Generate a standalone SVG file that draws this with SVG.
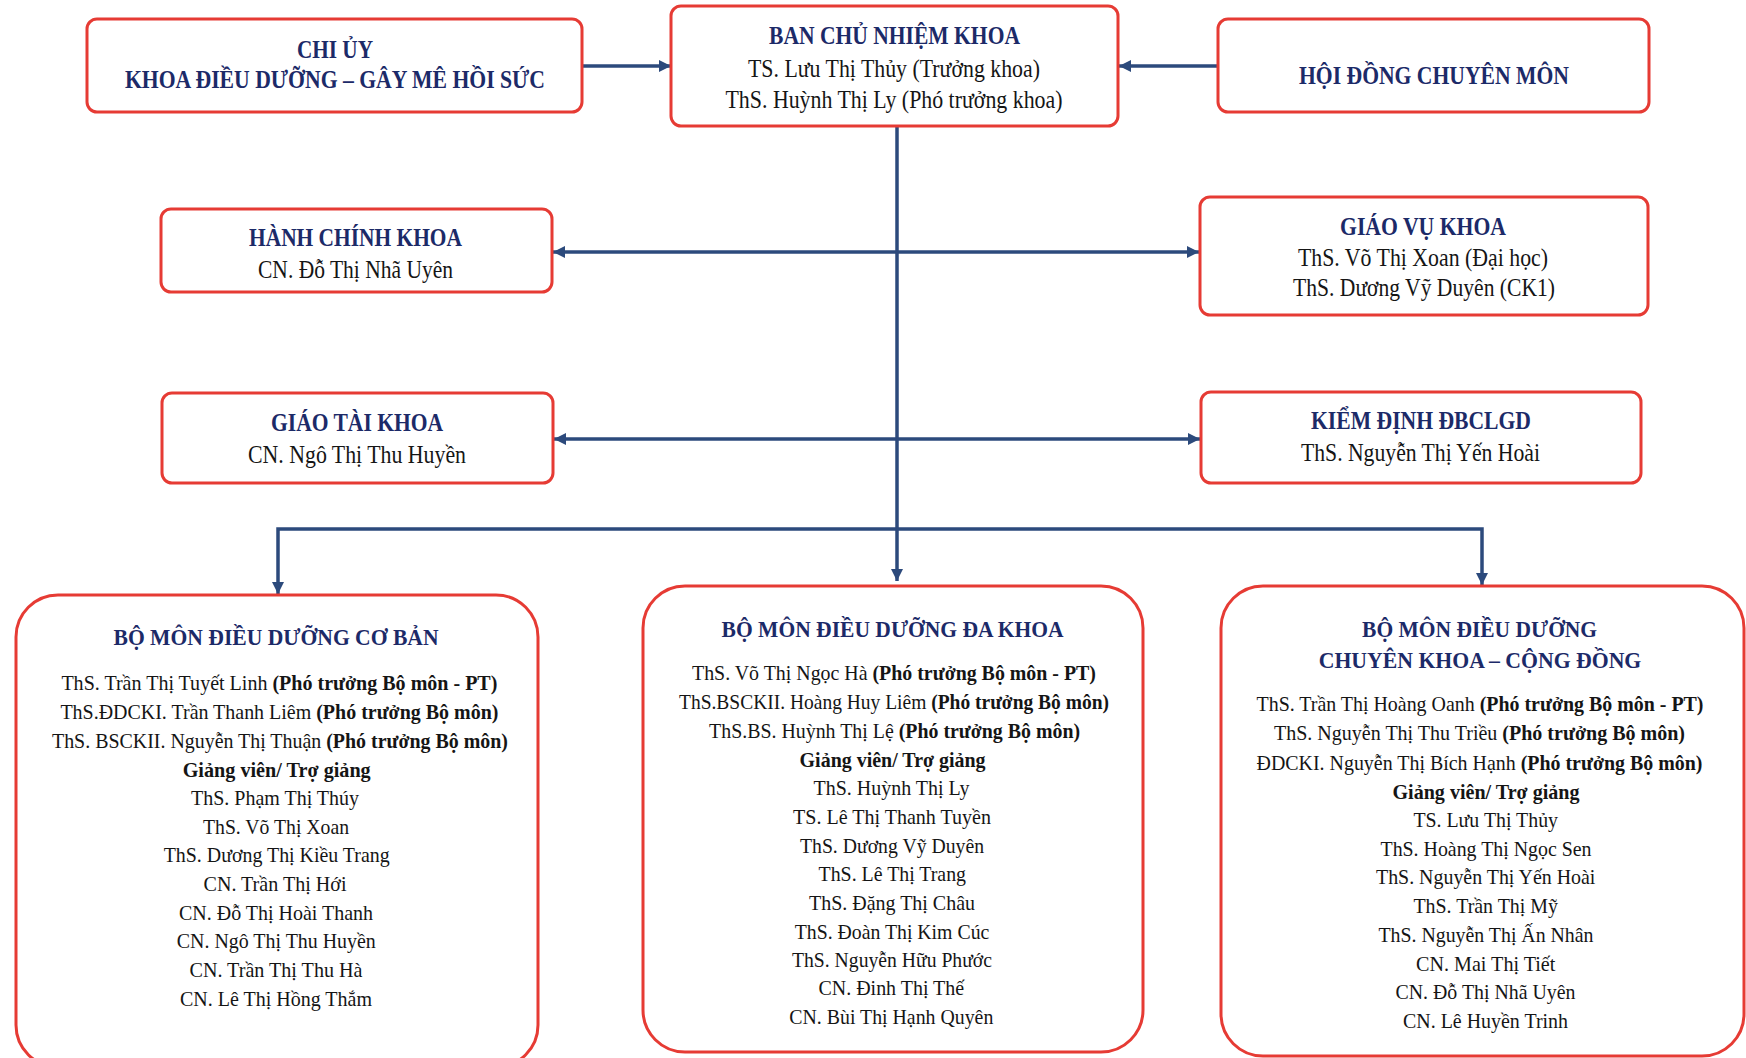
<svg xmlns="http://www.w3.org/2000/svg" width="1746" height="1058" viewBox="0 0 1746 1058">
<defs>
<style>
.box{fill:#fff;stroke:#e63b34;stroke-width:3}
.t{font-family:"Liberation Serif","Times New Roman",serif;text-anchor:middle}
.h{font-weight:bold;fill:#1c2a68;font-size:25px}
.hb{font-weight:bold;fill:#1c2a68;font-size:24px}
.n{fill:#151515;font-size:25px}
.s{fill:#151515;font-size:22px}
.b{font-weight:bold}
.c{fill:none;stroke:#2c4a7c;stroke-width:3.5}
</style>
<marker id="ah" markerUnits="userSpaceOnUse" markerWidth="12" markerHeight="12" refX="12" refY="6" orient="auto">
<path d="M0,0 L12,6 L0,12 z" fill="#2c4a7c"/>
</marker>
</defs>
<rect width="1746" height="1058" fill="#fff"/>

<g id="connectors">
<path class="c" d="M582,66 H671" marker-end="url(#ah)"/>
<path class="c" d="M1218,66 H1119" marker-end="url(#ah)"/>
<path class="c" d="M897,126 V581" marker-end="url(#ah)"/>
<path class="c" d="M897,252 H553" marker-end="url(#ah)"/>
<path class="c" d="M897,252 H1199" marker-end="url(#ah)"/>
<path class="c" d="M897,439 H554" marker-end="url(#ah)"/>
<path class="c" d="M897,439 H1200" marker-end="url(#ah)"/>
<path class="c" d="M897,529 H278 V594" marker-end="url(#ah)"/>
<path class="c" d="M897,529 H1482 V585" marker-end="url(#ah)"/>
</g>

<g id="chi-uy">
<rect class="box" x="87" y="19" width="495" height="93" rx="10"/>
<text class="t h" x="335" y="58" textLength="76" lengthAdjust="spacingAndGlyphs">CHI ỦY</text>
<text class="t h" x="335" y="88" textLength="420" lengthAdjust="spacingAndGlyphs">KHOA ĐIỀU DƯỠNG – GÂY MÊ HỒI SỨC</text>
</g>

<g id="ban-chu-nhiem">
<rect class="box" x="671" y="6" width="447" height="120" rx="10"/>
<text class="t h" x="894.5" y="44" textLength="251" lengthAdjust="spacingAndGlyphs">BAN CHỦ NHIỆM KHOA</text>
<text class="t n" x="894" y="77" textLength="292" lengthAdjust="spacingAndGlyphs">TS. Lưu Thị Thủy (Trưởng khoa)</text>
<text class="t n" x="894" y="108" textLength="337" lengthAdjust="spacingAndGlyphs">ThS. Huỳnh Thị Ly (Phó trưởng khoa)</text>
</g>

<g id="hoi-dong">
<rect class="box" x="1218" y="19" width="431" height="93" rx="10"/>
<text class="t h" x="1434" y="84" textLength="270" lengthAdjust="spacingAndGlyphs">HỘI ĐỒNG CHUYÊN MÔN</text>
</g>

<g id="hanh-chinh">
<rect class="box" x="161" y="209" width="391" height="83" rx="10"/>
<text class="t h" x="355.5" y="246" textLength="213" lengthAdjust="spacingAndGlyphs">HÀNH CHÍNH KHOA</text>
<text class="t n" x="355.5" y="278" textLength="195" lengthAdjust="spacingAndGlyphs">CN. Đỗ Thị Nhã Uyên</text>
</g>

<g id="giao-vu">
<rect class="box" x="1200" y="197" width="448" height="118" rx="10"/>
<text class="t h" x="1423" y="235" textLength="166" lengthAdjust="spacingAndGlyphs">GIÁO VỤ KHOA</text>
<text class="t n" x="1423" y="266" textLength="250" lengthAdjust="spacingAndGlyphs">ThS. Võ Thị Xoan (Đại học)</text>
<text class="t n" x="1424" y="296" textLength="262" lengthAdjust="spacingAndGlyphs">ThS. Dương Vỹ Duyên (CK1)</text>
</g>

<g id="giao-tai">
<rect class="box" x="162" y="393" width="391" height="90" rx="10"/>
<text class="t h" x="357" y="431" textLength="172" lengthAdjust="spacingAndGlyphs">GIÁO TÀI KHOA</text>
<text class="t n" x="357" y="463" textLength="218" lengthAdjust="spacingAndGlyphs">CN. Ngô Thị Thu Huyền</text>
</g>

<g id="kiem-dinh">
<rect class="box" x="1201" y="392" width="440" height="91" rx="10"/>
<text class="t h" x="1421" y="429" textLength="220" lengthAdjust="spacingAndGlyphs">KIỂM ĐỊNH ĐBCLGD</text>
<text class="t n" x="1420.5" y="461" textLength="239" lengthAdjust="spacingAndGlyphs">ThS. Nguyễn Thị Yến Hoài</text>
</g>

<g id="bm-co-ban">
<rect class="box" x="16" y="595" width="522" height="472" rx="42"/>
<text class="t hb" x="276" y="645" textLength="325" lengthAdjust="spacingAndGlyphs">BỘ MÔN ĐIỀU DƯỠNG CƠ BẢN</text>
<text class="t s" x="279.4" y="690" textLength="436" lengthAdjust="spacingAndGlyphs">ThS. Trần Thị Tuyết Linh <tspan class="b">(Phó trưởng Bộ môn - PT)</tspan></text>
<text class="t s" x="279.4" y="719" textLength="438" lengthAdjust="spacingAndGlyphs">ThS.ĐDCKI. Trần Thanh Liêm <tspan class="b">(Phó trưởng Bộ môn)</tspan></text>
<text class="t s" x="280" y="748" textLength="456" lengthAdjust="spacingAndGlyphs">ThS. BSCKII. Nguyễn Thị Thuận <tspan class="b">(Phó trưởng Bộ môn)</tspan></text>
<text class="t s b" x="276.7" y="777" textLength="188" lengthAdjust="spacingAndGlyphs">Giảng viên/ Trợ giảng</text>
<text class="t s" x="275" y="805" textLength="168" lengthAdjust="spacingAndGlyphs">ThS. Phạm Thị Thúy</text>
<text class="t s" x="276" y="834" textLength="146" lengthAdjust="spacingAndGlyphs">ThS. Võ Thị Xoan</text>
<text class="t s" x="276.7" y="862" textLength="226" lengthAdjust="spacingAndGlyphs">ThS. Dương Thị Kiều Trang</text>
<text class="t s" x="275" y="891" textLength="143" lengthAdjust="spacingAndGlyphs">CN. Trần Thị Hới</text>
<text class="t s" x="276" y="920" textLength="194" lengthAdjust="spacingAndGlyphs">CN. Đỗ Thị Hoài Thanh</text>
<text class="t s" x="276.3" y="948" textLength="199" lengthAdjust="spacingAndGlyphs">CN. Ngô Thị Thu Huyền</text>
<text class="t s" x="276" y="977" textLength="173" lengthAdjust="spacingAndGlyphs">CN. Trần Thị Thu Hà</text>
<text class="t s" x="276" y="1006" textLength="192" lengthAdjust="spacingAndGlyphs">CN. Lê Thị Hồng Thắm</text>
</g>

<g id="bm-da-khoa">
<rect class="box" x="643" y="586" width="500" height="466" rx="42"/>
<text class="t hb" x="892.6" y="637" textLength="342" lengthAdjust="spacingAndGlyphs">BỘ MÔN ĐIỀU DƯỠNG ĐA KHOA</text>
<text class="t s" x="894" y="680" textLength="404" lengthAdjust="spacingAndGlyphs">ThS. Võ Thị Ngọc Hà <tspan class="b">(Phó trưởng Bộ môn - PT)</tspan></text>
<text class="t s" x="894" y="709" textLength="430" lengthAdjust="spacingAndGlyphs">ThS.BSCKII. Hoàng Huy Liêm <tspan class="b">(Phó trưởng Bộ môn)</tspan></text>
<text class="t s" x="894.6" y="738" textLength="371" lengthAdjust="spacingAndGlyphs">ThS.BS. Huỳnh Thị Lệ <tspan class="b">(Phó trưởng Bộ môn)</tspan></text>
<text class="t s b" x="892.6" y="767" textLength="186" lengthAdjust="spacingAndGlyphs">Giảng viên/ Trợ giảng</text>
<text class="t s" x="891.6" y="795" textLength="156" lengthAdjust="spacingAndGlyphs">ThS. Huỳnh Thị Ly</text>
<text class="t s" x="892" y="824" textLength="198" lengthAdjust="spacingAndGlyphs">TS. Lê Thị Thanh Tuyền</text>
<text class="t s" x="892" y="853" textLength="184" lengthAdjust="spacingAndGlyphs">ThS. Dương Vỹ Duyên</text>
<text class="t s" x="892.3" y="881" textLength="147.5" lengthAdjust="spacingAndGlyphs">ThS. Lê Thị Trang</text>
<text class="t s" x="892" y="910" textLength="166" lengthAdjust="spacingAndGlyphs">ThS. Đặng Thị Châu</text>
<text class="t s" x="892" y="939" textLength="194.6" lengthAdjust="spacingAndGlyphs">ThS. Đoàn Thị Kim Cúc</text>
<text class="t s" x="892" y="967" textLength="200" lengthAdjust="spacingAndGlyphs">ThS. Nguyễn Hữu Phước</text>
<text class="t s" x="891.3" y="995" textLength="145.7" lengthAdjust="spacingAndGlyphs">CN. Đinh Thị Thế</text>
<text class="t s" x="891.3" y="1024" textLength="204" lengthAdjust="spacingAndGlyphs">CN. Bùi Thị Hạnh Quyên</text>
</g>

<g id="bm-chuyen-khoa">
<rect class="box" x="1221" y="586" width="523" height="470" rx="42"/>
<text class="t hb" x="1479.6" y="637" textLength="235" lengthAdjust="spacingAndGlyphs">BỘ MÔN ĐIỀU DƯỠNG</text>
<text class="t hb" x="1480" y="668" textLength="322.5" lengthAdjust="spacingAndGlyphs">CHUYÊN KHOA – CỘNG ĐỒNG</text>
<text class="t s" x="1480" y="711" textLength="447" lengthAdjust="spacingAndGlyphs">ThS. Trần Thị Hoàng Oanh <tspan class="b">(Phó trưởng Bộ môn - PT)</tspan></text>
<text class="t s" x="1479.5" y="740" textLength="411" lengthAdjust="spacingAndGlyphs">ThS. Nguyễn Thị Thu Triều <tspan class="b">(Phó trưởng Bộ môn)</tspan></text>
<text class="t s" x="1479.5" y="770" textLength="446" lengthAdjust="spacingAndGlyphs">ĐDCKI. Nguyễn Thị Bích Hạnh <tspan class="b">(Phó trưởng Bộ môn)</tspan></text>
<text class="t s b" x="1486" y="799" textLength="187" lengthAdjust="spacingAndGlyphs">Giảng viên/ Trợ giảng</text>
<text class="t s" x="1485.7" y="827" textLength="144.6" lengthAdjust="spacingAndGlyphs">TS. Lưu Thị Thủy</text>
<text class="t s" x="1486" y="856" textLength="211" lengthAdjust="spacingAndGlyphs">ThS. Hoàng Thị Ngọc Sen</text>
<text class="t s" x="1485.7" y="884" textLength="219.4" lengthAdjust="spacingAndGlyphs">ThS. Nguyễn Thị Yến Hoài</text>
<text class="t s" x="1485.7" y="913" textLength="144.6" lengthAdjust="spacingAndGlyphs">ThS. Trần Thị Mỹ</text>
<text class="t s" x="1486" y="942" textLength="215" lengthAdjust="spacingAndGlyphs">ThS. Nguyễn Thị Ấn Nhân</text>
<text class="t s" x="1485.7" y="971" textLength="139.4" lengthAdjust="spacingAndGlyphs">CN. Mai Thị Tiết</text>
<text class="t s" x="1485.5" y="999" textLength="180" lengthAdjust="spacingAndGlyphs">CN. Đỗ Thị Nhã Uyên</text>
<text class="t s" x="1485.5" y="1028" textLength="165" lengthAdjust="spacingAndGlyphs">CN. Lê Huyền Trinh</text>
</g>
</svg>
